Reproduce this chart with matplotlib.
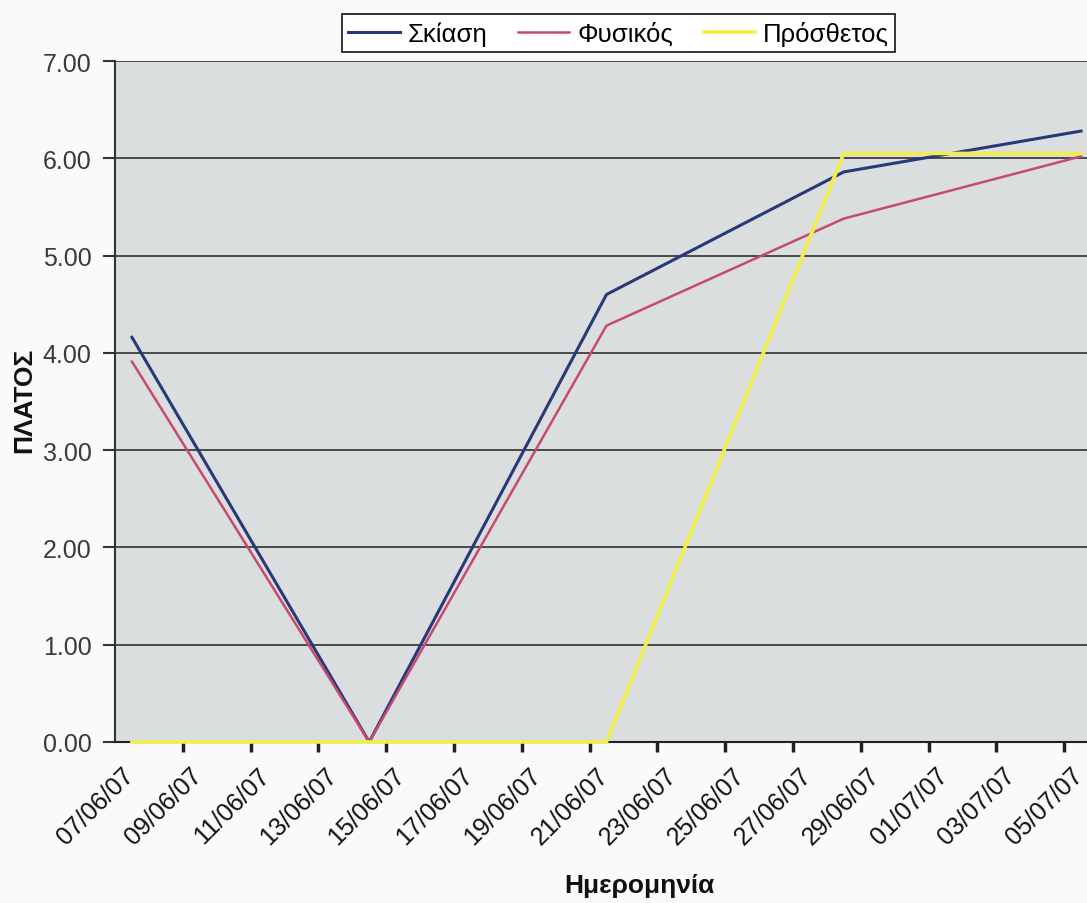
import matplotlib

matplotlib.use("Agg")
import matplotlib.pyplot as plt  # noqa: E402
import pandas as pd  # noqa: E402

plt.rcParams["font.family"] = ["Liberation Sans", "DejaVu Sans"]

# weekly measurements
dates = pd.to_datetime(["2007-06-07", "2007-06-14", "2007-06-21", "2007-06-28", "2007-07-05"])
skiasi = [4.16, 0.0, 4.60, 5.86, 6.28]
fysikos = [3.91, 0.0, 4.28, 5.38, 6.02]
prosthetos = [0.0, 0.0, 0.0, 6.05, 6.05]
series_names = ["Σκίαση", "Φυσικός", "Πρόσθετος"]
tick_dates = pd.date_range("2007-06-07", "2007-07-05", freq="2D")
y_ticks = [0, 1, 2, 3, 4, 5, 6, 7]

start = dates[0]
days = [(d - start).days for d in dates]
label_days = [(d - start).days for d in tick_dates]
tick_labels = [d.strftime("%d/%m/%y") for d in tick_dates]

fig = plt.figure(figsize=(10.87, 9.04), dpi=100, facecolor="#fafafa")
ax = fig.add_axes([0.1058, 0.1781, 0.9043, 0.7533])
ax.set_facecolor("#dadede")

for yv in y_ticks[1:]:
    ax.axhline(yv, color="#222222", lw=1.1, zorder=1)

ax.plot(days, skiasi, color="#283878", lw=2.2, label=series_names[0], zorder=3, clip_on=False)
ax.plot(days, fysikos, color="#c84a6e", lw=1.8, label=series_names[1], zorder=3, clip_on=False)
ax.plot(days, prosthetos, color="#f2ef4a", lw=2.6, label=series_names[2], zorder=4, clip_on=False)

ax.set_xlim(-0.5, 28.5)
ax.set_ylim(0, 7)

# tick marks sit between the labelled dates; labels nudged a little left
ax.set_xticks([d - 0.5 for d in label_days if d > 0])
ax.set_xticklabels([])
ax.set_xticks([d - 0.3 for d in label_days], minor=True)
ax.set_xticklabels(tick_labels, minor=True, rotation=45, ha="right", va="top",
                   rotation_mode="anchor", fontsize=18, color="#111111")
ax.tick_params(axis="x", which="major", direction="out", length=7, width=2.5, color="#222222")
ax.tick_params(axis="x", which="minor", length=0, pad=15)

ax.set_yticks(y_ticks)
ax.set_yticklabels([f"{v:.2f}" for v in y_ticks], fontsize=18, color="#3a3a3a")
ax.tick_params(axis="y", direction="out", length=9, width=1.5, color="#333333", pad=8)

for side in ["top", "right"]:
    ax.spines[side].set_visible(False)
ax.spines["left"].set_color("#333333")
ax.spines["left"].set_linewidth(1.5)
ax.spines["bottom"].set_color("#222222")
ax.spines["bottom"].set_linewidth(1.5)

fig.text(0.022, 0.557, "ΠΛΑΤΟΣ", rotation=90, ha="center", va="center",
         fontsize=19, fontweight="bold", color="#111111")
fig.text(0.588, 0.020, "Ημερομηνία", ha="center", va="center",
         fontsize=19, fontweight="bold", color="#111111")

leg = fig.legend(loc="center", bbox_to_anchor=(0.569, 0.962), ncol=3, fontsize=18.5,
                 frameon=True, fancybox=False, edgecolor="#111111", facecolor="white",
                 handlelength=2.0, handletextpad=0.3, columnspacing=1.2,
                 borderpad=0.25, framealpha=1)
leg.get_frame().set_linewidth(1.2)

fig.savefig("out.png", dpi=100, facecolor=fig.get_facecolor())
plt.close(fig)
